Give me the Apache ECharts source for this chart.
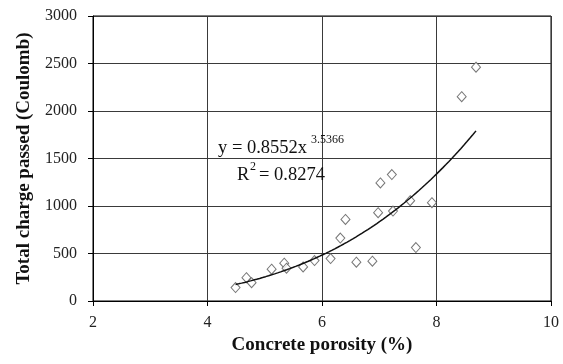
<!DOCTYPE html>
<html>
<head>
<meta charset="utf-8">
<script src="https://cdn.jsdelivr.net/npm/echarts@6/dist/echarts.min.js"></script>
<style>
  html, body { margin: 0; padding: 0; background: #fff; }
  #chart { width: 563px; height: 364px; }
</style>
</head>
<body>
<div id="chart"></div>
<script>
// Concrete porosity (%) and total charge passed (Coulomb) for each specimen
const porosity = [4.49, 4.68, 4.77, 5.12, 5.34, 5.38, 5.67, 5.87, 6.15, 6.32, 6.41,
                  6.60, 6.88, 6.98, 7.02, 7.22, 7.24, 7.54, 7.64, 7.92, 8.44, 8.69];
const chargePassed = [141, 246, 193, 335, 398, 345, 359, 426, 447, 662, 859,
                      408, 419, 930, 1243, 1331, 947, 1056, 563, 1035, 2151, 2461];

// Power-law fit y = a * x^b, as reported on the chart
const fitA = 0.8552;
const fitB = 3.5366;
const fitR2 = 0.8274;
const fitRange = [4.49, 8.69];

const xTicks = [2, 4, 6, 8, 10];
const yTicks = [0, 500, 1000, 1500, 2000, 2500, 3000];

// Sample the fitted curve across the range of the data
const fitLine = [];
const steps = 80;
for (let i = 0; i <= steps; i++) {
  const x = fitRange[0] + (fitRange[1] - fitRange[0]) * i / steps;
  fitLine.push([x, fitA * Math.pow(x, fitB)]);
}

const serif = '"Liberation Serif", "DejaVu Serif", serif';
const chart = echarts.init(document.getElementById('chart'), null, { renderer: 'canvas' });

chart.setOption({
  animation: false,
  backgroundColor: '#fff',
  grid: {
    left: 93, top: 16, width: 458, height: 285,
    show: true, borderColor: '#000', borderWidth: 1, backgroundColor: '#fff'
  },
  xAxis: {
    type: 'value',
    min: xTicks[0], max: xTicks[xTicks.length - 1], interval: 2,
    name: 'Concrete porosity (%)',
    nameLocation: 'middle', nameGap: 31,
    nameTextStyle: { fontFamily: serif, fontWeight: 'bold', fontSize: 19, color: '#111' },
    axisLine: { show: true, onZero: false, lineStyle: { color: '#000', width: 1 } },
    axisTick: { show: true, length: 5, lineStyle: { color: '#000' } },
    axisLabel: { fontFamily: serif, fontSize: 16, color: '#222', margin: 14,
                 formatter: v => String(v) },
    splitLine: { show: true, lineStyle: { color: '#3a3a3a', width: 1 } }
  },
  yAxis: {
    type: 'value',
    min: yTicks[0], max: yTicks[yTicks.length - 1], interval: 500,
    name: 'Total charge passed (Coulomb)',
    nameLocation: 'middle', nameGap: 59,
    nameTextStyle: { fontFamily: serif, fontWeight: 'bold', fontSize: 19, color: '#111' },
    axisLine: { show: true, lineStyle: { color: '#000', width: 1 } },
    axisTick: { show: true, length: 5, lineStyle: { color: '#000' } },
    axisLabel: { fontFamily: serif, fontSize: 16, color: '#222', margin: 16,
                 formatter: v => String(v) },
    splitLine: { show: true, lineStyle: { color: '#3a3a3a', width: 1 } }
  },
  series: [
    {
      type: 'scatter',
      data: porosity.map((x, i) => [x, chargePassed[i]]),
      symbol: 'diamond',
      symbolSize: [9, 10],
      itemStyle: { color: '#fff', borderColor: '#555', borderWidth: 1 },
      z: 3
    },
    {
      type: 'line',
      data: fitLine,
      showSymbol: false,
      smooth: false,
      lineStyle: { color: '#111', width: 1.5 },
      z: 4
    }
  ],
  graphic: [
    { type: 'text', left: 218, top: 139, z: 10,
      style: { text: 'y = ' + fitA.toFixed(4) + 'x', font: '18.5px ' + serif, fill: '#111' } },
    { type: 'text', left: 311, top: 134, z: 10,
      style: { text: fitB.toFixed(4), font: '12px ' + serif, fill: '#111' } },
    { type: 'text', left: 237, top: 166, z: 10,
      style: { text: 'R', font: '18.5px ' + serif, fill: '#111' } },
    { type: 'text', left: 250, top: 161, z: 10,
      style: { text: '2', font: '12px ' + serif, fill: '#111' } },
    { type: 'text', left: 259, top: 166, z: 10,
      style: { text: '= ' + fitR2.toFixed(4), font: '18.5px ' + serif, fill: '#111' } }
  ]
});
</script>
</body>
</html>
